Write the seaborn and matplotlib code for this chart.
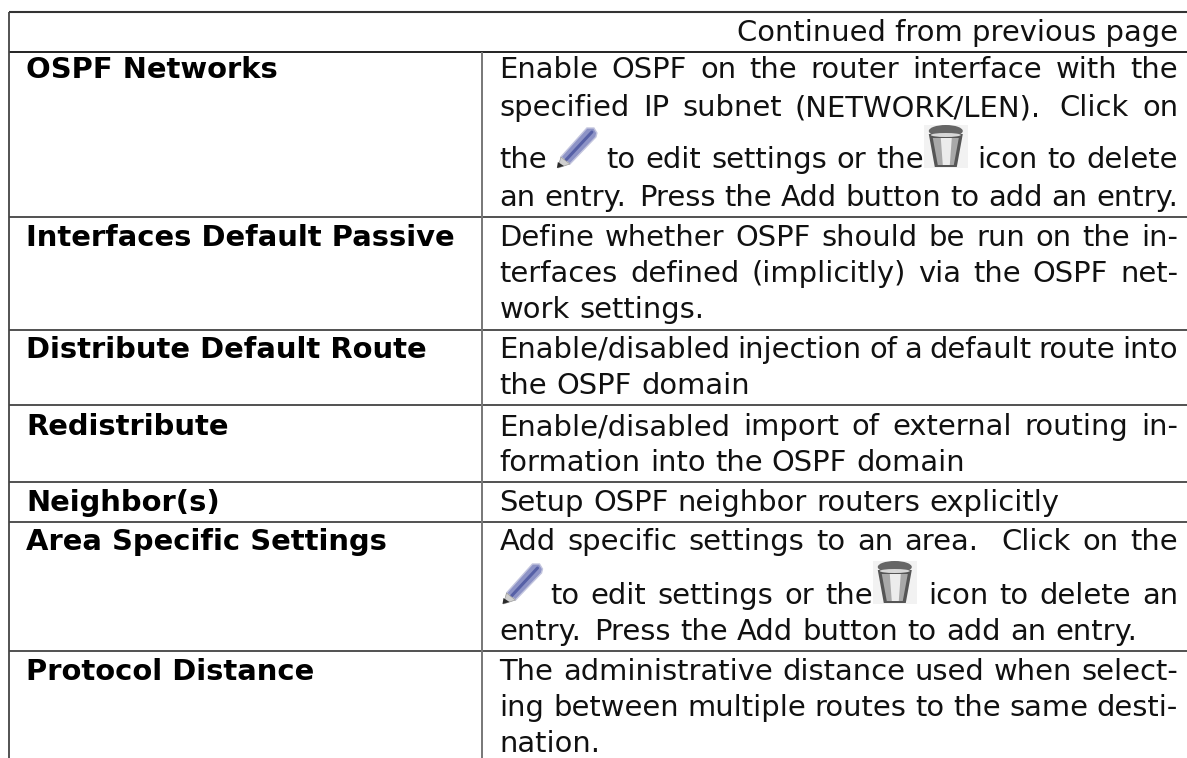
"""Table page: OSPF settings (continued from previous page)."""
import matplotlib
matplotlib.use("Agg")
import matplotlib.pyplot as plt
import seaborn as sns
from matplotlib.patches import Ellipse, Polygon, Rectangle

sns.set_theme(style="white")
plt.rcParams["font.family"] = ["DejaVu Sans"]

HEADER = "Continued from previous page"
NAMES = ["OSPF Networks", "Interfaces Default Passive", "Distribute Default Route",
         "Redistribute", "Neighbor(s)", "Area Specific Settings", "Protocol Distance"]
# @pen / @bin stand for the two inline icons
DESCR = [
    ["Enable OSPF on the router interface with the",
     "specified IP subnet (NETWORK/LEN). Click on",
     "the @pen to edit settings or the @bin icon to delete",
     "an entry. Press the Add button to add an entry."],
    ["Define whether OSPF should be run on the in-",
     "terfaces defined (implicitly) via the OSPF net-",
     "work settings."],
    ["Enable/disabled injection of a default route into",
     "the OSPF domain"],
    ["Enable/disabled import of external routing in-",
     "formation into the OSPF domain"],
    ["Setup OSPF neighbor routers explicitly"],
    ["Add specific settings to an area.  Click on the",
     "@pen to edit settings or the @bin icon to delete an",
     "entry. Press the Add button to add an entry."],
    ["The administrative distance used when select-",
     "ing between multiple routes to the same desti-",
     "nation."],
]
# baselines of each description line, pixels from the top
BASELINES = [[78, 116, 168, 206], [246, 282, 318], [358, 394], [435, 471],
             [511], [550, 604, 640], [680, 716, 752]]
RULES_Y = [12, 52, 217, 330, 405, 482, 522, 651]

W, H = 1187, 758
FS = 20.85
LEFT, SEP, NAME_X, TXT_X, TXT_R = 8.7, 482, 26, 499.5, 1178
GAP = 9.3
INK = "#111111"
ICON_W = {"@pen": 40, "@bin": 44}

fig, ax = plt.subplots(figsize=(W / 100, H / 100), dpi=100)
ax.set_position([0, 0, 1, 1])
ax.set(xlim=(0, W), ylim=(H, 0))
ax.axis("off")
rend = fig.canvas.get_renderer()


def word_w(s):
    t = ax.text(0, 0, s, fontsize=FS)
    w = t.get_window_extent(rend).width
    t.remove()
    return w


def pencil(x, base):
    top = base - 40
    ax.add_patch(Polygon([(x + 30, top), (x + 37, top), (x + 40, top + 5), (x + 39, top + 9),
                          (x + 13, top + 36), (x + 4, top + 29)],
                         fc="#8d93c6", ec="#c3c5de", lw=1.0, zorder=3))
    ax.plot([x + 35, x + 9], [top + 4, top + 32], color="#5660a6", lw=2.2, zorder=4)
    ax.add_patch(Polygon([(x + 4, top + 29), (x + 13, top + 36), (x + 1, top + 40)],
                         fc="#d0d0d0", ec="#9a9a9a", lw=0.5, zorder=4))
    ax.add_patch(Polygon([(x + 1, top + 34), (x + 7, top + 38), (x, top + 40)],
                         fc="#2a2a2a", ec="none", zorder=5))


def trash(x, base):
    top = base - 43
    ax.add_patch(Rectangle((x, top), 44, 43, fc="#f2f2f2", ec="none", zorder=2))
    ax.add_patch(Polygon([(x + 5, top + 9), (x + 39, top + 9), (x + 33, top + 42), (x + 11, top + 42)],
                         fc="#555555", ec="none", zorder=3))
    ax.add_patch(Polygon([(x + 9, top + 13), (x + 35, top + 13), (x + 30, top + 40), (x + 14, top + 40)],
                         fc="#a8a8a8", ec="none", zorder=4))
    ax.add_patch(Polygon([(x + 17, top + 13), (x + 28, top + 13), (x + 26, top + 40), (x + 19, top + 40)],
                         fc="#ececec", ec="none", zorder=5))
    ax.add_patch(Ellipse((x + 22, top + 6), 34, 12, fc="#666666", ec="none", zorder=6))
    ax.add_patch(Ellipse((x + 22, top + 10), 30, 4, fc="#d8d8d8", ec="none", zorder=7))


def draw_line(line, base, justify):
    tokens, weights = [], []
    for part in line.split(" "):
        if part == "":
            weights[-1] = 2.0
            continue
        tokens.append(part)
        weights.append(1.4 if part.endswith(".") else 1.0)
    widths = [ICON_W.get(t, 0) or word_w(t) for t in tokens]
    # the bin icon sits right against the word before it
    for i, t in enumerate(tokens):
        if t == "@bin":
            weights[i - 1] = 0.0
    weights[-1] = 0.0
    natural = sum(widths) + GAP * sum(weights)
    gap = GAP
    # a last line that nearly fills the column still ends flush
    if justify or natural > TXT_R - TXT_X - 20:
        gap = (TXT_R - TXT_X - sum(widths)) / sum(weights)
    x = TXT_X
    for t, w, wt in zip(tokens, widths, weights):
        if t == "@pen":
            pencil(x + (3 if x == TXT_X else 0), base)
        elif t == "@bin":
            trash(x, base)
        else:
            ax.text(x, base, t, fontsize=FS, color=INK, va="baseline", ha="left")
        x += w + gap * wt


# rules: the top two and the row rules run off the right edge
ax.hlines(RULES_Y[0], LEFT, W, color="#333333", lw=1.5)
ax.hlines(RULES_Y[1], LEFT, W, color="#222222", lw=1.4)
ax.hlines(RULES_Y[2:], LEFT, W, color="#333333", lw=1.2)
ax.vlines(LEFT, RULES_Y[0], H, color="#444444", lw=1.3)
ax.vlines(SEP, RULES_Y[1], H, color="#777777", lw=1.4)

ax.text(TXT_R, 41, HEADER, fontsize=FS, color=INK, ha="right", va="baseline")

for name, lines, bases in zip(NAMES, DESCR, BASELINES):
    ax.text(NAME_X, bases[0], name, fontsize=FS, fontweight="bold", color="#000000", va="baseline")
    for i, (line, b) in enumerate(zip(lines, bases)):
        draw_line(line, b, i < len(lines) - 1)

fig.savefig("out.png", dpi=100)
